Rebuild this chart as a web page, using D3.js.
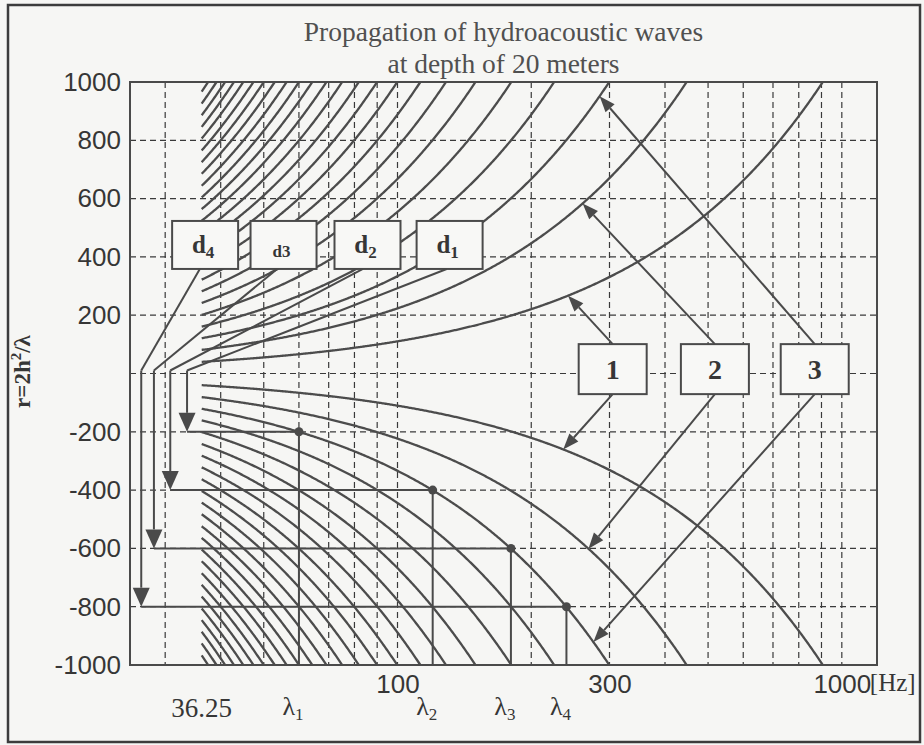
<!DOCTYPE html>
<html>
<head>
<meta charset="utf-8">
<script src="https://cdn.jsdelivr.net/npm/d3@7"></script>
<style>
body { margin: 0; background: #f6f6f4; }
svg { display: block; }
</style>
</head>
<body>
<svg id="chart" width="924" height="745"></svg>
<script>
// values
var startFreq = 36.25;
// r of every curve at 36.25 Hz (r grows in proportion to f, r = 2h^2/lambda, lambda = c/f)
var curveStartR = [40, 81, 121, 161, 201, 242, 282, 322, 363, 403, 443, 483,
                   524, 564, 604, 644, 685, 725, 765, 806, 846, 886, 926, 967];
var xGrid = [30, 40, 50, 60, 70, 80, 90, 100, 200, 300, 400, 500, 600, 700, 800, 900, 1000];
var yGrid = [-800, -600, -400, -200, 0, 200, 400, 600, 800];
var xTickLabels = [100, 300, 1000];
var yTickLabels = [1000, 800, 600, 400, 200, -200, -400, -600, -800, -1000];

var lambdaNames = ['1', '2', '3', '4'];
var lambdaFreqs = [60, 120, 180, 240];
var lambdaR = [-200, -400, -600, -800];

// d1..d4 boxes and their leader lines
var dNames = ['1', '2', '3', '4'];
var dBoxFreqs = [131, 85.6, 55.4, 36.9];
var dBoxR = 441;
var dLeaderTopFreqs = [129, 83.6, 53.6, 35.9];
var dLeaderFreqs = [33.6, 30.8, 28.3, 26.5];

// boxes 1..3 pointing at curves 1..3
var modeNames = ['1', '2', '3'];
var modeBoxFreqs = [305, 518, 869];
var modeBoxR = 15;
var modeUpFreqs = [242, 261, 285];
var modeDownFreqs = [236, 269, 276];

var svg = d3.select('#chart');
var W = 924, H = 745;
var pLeft = 130, pRight = 877, pTop = 82, pBottom = 665;
var ink = '#4a4a4a';
var serif = '"Liberation Serif", "Times New Roman", serif';
var sans = '"Liberation Sans", Arial, sans-serif';

var x = d3.scaleLog().domain([25, 1200]).range([pLeft, pRight]);
var y = d3.scaleLinear().domain([-1000, 1000]).range([pBottom, pTop]);

svg.append('rect').attr('width', W).attr('height', H).attr('fill', '#f6f6f4');
svg.append('rect')
    .attr('x', 8).attr('y', 5).attr('width', 912).attr('height', 737)
    .attr('fill', 'none').attr('stroke', '#3c3c3c').attr('stroke-width', 2.5);

svg.append('clipPath').attr('id', 'plotClip')
  .append('rect').attr('x', pLeft).attr('y', pTop)
    .attr('width', pRight - pLeft).attr('height', pBottom - pTop);

// grid
var grid = svg.append('g').attr('stroke', '#3a3a3a').attr('stroke-width', 1.2)
    .attr('stroke-dasharray', '6,4');
grid.selectAll('.vg').data(xGrid).enter().append('line')
    .attr('x1', d => x(d)).attr('x2', d => x(d))
    .attr('y1', pTop).attr('y2', pBottom);
grid.selectAll('.hg').data(yGrid).enter().append('line')
    .attr('x1', pLeft).attr('x2', pRight)
    .attr('y1', d => y(d)).attr('y2', d => y(d));

// curves, upper (+r) and lower (-r)
var line = d3.line().x(d => x(d[0])).y(d => y(d[1]));
var curves = svg.append('g').attr('clip-path', 'url(#plotClip)');
function curvePoints(r0, sign) {
    var pts = [];
    for (var px = x(startFreq); px <= pRight + 1; px += 1) {
        var f = x.invert(px);
        var r = sign * r0 * f / startFreq;
        pts.push([f, r]);
        if (Math.abs(r) > 1000) break;
    }
    return pts;
}
[1, -1].forEach(function(sign) {
    curveStartR.forEach(function(r0) {
        curves.append('path')
            .datum(curvePoints(r0, sign))
            .attr('fill', 'none')
            .attr('stroke', '#4c4c4c')
            .attr('stroke-width', 2.3)
            .attr('d', line);
    });
});

// plot frame
svg.append('rect')
    .attr('x', pLeft).attr('y', pTop).attr('width', pRight - pLeft).attr('height', pBottom - pTop)
    .attr('fill', 'none').attr('stroke', ink).attr('stroke-width', 2);

// axes labels
var yAxis = svg.append('g').attr('transform', `translate(${pLeft},0)`)
    .call(d3.axisLeft(y).tickValues(yTickLabels).tickSize(0).tickPadding(9).tickFormat(d => String(d)));
yAxis.select('.domain').remove();
yAxis.selectAll('.tick text')
    .style('font-family', sans)
    .style('font-size', '26px')
    .attr('fill', '#363636');

var xAxis = svg.append('g').attr('transform', `translate(0,${pBottom})`)
    .call(d3.axisBottom(x).tickValues(xTickLabels).tickSize(0).tickFormat(d => String(d)));
xAxis.select('.domain').remove();
xAxis.selectAll('.tick text')
    .attr('y', 28).attr('dy', 0)
    .style('font-family', sans)
    .style('font-size', '26px')
    .attr('fill', '#363636');
svg.append('text')
    .attr('x', x(1000) + 28).attr('y', 691)
    .style('font-family', serif)
    .style('font-size', '25px')
    .attr('fill', '#363636')
    .text('[Hz]');

svg.append('text')
    .attr('x', x(startFreq)).attr('y', 717)
    .attr('text-anchor', 'middle')
    .style('font-family', serif).style('font-size', '27px')
    .attr('fill', '#363636')
    .text('36.25');

lambdaFreqs.forEach(function(f, i) {
    var t = svg.append('text')
        .attr('x', x(f) - 6).attr('y', 715)
        .attr('text-anchor', 'middle')
        .style('font-family', serif).style('font-size', '26px')
        .attr('fill', '#363636');
    t.append('tspan').text('λ');
    t.append('tspan').attr('dy', 5).style('font-size', '17px').text(lambdaNames[i]);
});

// title
var title = svg.append('text')
    .attr('text-anchor', 'middle')
    .style('font-family', serif).style('font-size', '27.5px')
    .attr('fill', '#505050');
title.append('tspan').attr('x', (pLeft + pRight) / 2).attr('y', 41).text('Propagation of hydroacoustic waves');
title.append('tspan').attr('x', (pLeft + pRight) / 2).attr('y', 73).text('at depth of 20 meters');

// y label
var yl = svg.append('text')
    .attr('transform', `translate(30, ${y(0) - 2}) rotate(-90)`)
    .attr('text-anchor', 'middle')
    .style('font-family', serif).style('font-size', '23px').style('font-weight', 'bold')
    .attr('fill', '#363636');
yl.append('tspan').text('r=2h');
yl.append('tspan').attr('dy', -9).style('font-size', '15px').text('2');
yl.append('tspan').attr('dy', 9).text('/λ');

// arrow helper: shaft from (x1,y1), filled head ending at (x2,y2)
function arrow(g, x1, y1, x2, y2, len, wid) {
    var dx = x2 - x1, dy = y2 - y1, L = Math.sqrt(dx * dx + dy * dy);
    var ux = dx / L, uy = dy / L;
    var bx = x2 - ux * len, by = y2 - uy * len;
    g.append('line').attr('x1', x1).attr('y1', y1).attr('x2', bx).attr('y2', by)
        .attr('stroke', ink).attr('stroke-width', 2);
    g.append('path')
        .attr('d', `M${x2},${y2}L${bx - uy * wid / 2},${by + ux * wid / 2}L${bx + uy * wid / 2},${by - ux * wid / 2}Z`)
        .attr('fill', ink);
}

var notes = svg.append('g');

// lambda construction lines
lambdaFreqs.forEach(function(f, i) {
    var xv = x(dLeaderFreqs[i]);
    var yr = y(lambdaR[i]);
    notes.append('line').attr('x1', xv).attr('y1', yr).attr('x2', x(f)).attr('y2', yr)
        .attr('stroke', ink).attr('stroke-width', 2);
    notes.append('line').attr('x1', x(f)).attr('y1', yr).attr('x2', x(f)).attr('y2', pBottom)
        .attr('stroke', ink).attr('stroke-width', 2);
    arrow(notes, xv, y(0) - 3, xv, yr, 19, 17);
    notes.append('circle').attr('cx', x(f)).attr('cy', yr).attr('r', 4.5).attr('fill', ink);
});

// d boxes with leaders
var boxW = 66, boxH = 48;
dNames.forEach(function(n, i) {
    var cx = x(dBoxFreqs[i]), cy = y(dBoxR);
    notes.append('line')
        .attr('x1', x(dLeaderTopFreqs[i])).attr('y1', cy + boxH / 2)
        .attr('x2', x(dLeaderFreqs[i])).attr('y2', y(0) - 3)
        .attr('stroke', ink).attr('stroke-width', 2);
    notes.append('rect')
        .attr('x', cx - boxW / 2).attr('y', cy - boxH / 2)
        .attr('width', boxW).attr('height', boxH)
        .attr('fill', '#f8f8f6').attr('stroke', ink).attr('stroke-width', 2);
    var t = notes.append('text')
        .attr('x', cx - 2).attr('y', cy + 8)
        .attr('text-anchor', 'middle')
        .style('font-family', serif).style('font-weight', 'bold')
        .attr('fill', '#363636');
    if (n === '3') {
        t.attr('y', cy + 12).style('font-size', '17px').text('d3');
    } else {
        t.style('font-size', '25px');
        t.append('tspan').text('d');
        t.append('tspan').attr('dy', 5).style('font-size', '17px').text(n);
    }
});

// boxes 1..3 with arrows to the curves
var mW = 68, mH = 50;
modeNames.forEach(function(n, i) {
    var cx = x(modeBoxFreqs[i]), cy = y(modeBoxR);
    var r0 = curveStartR[i];
    var fu = modeUpFreqs[i], fd = modeDownFreqs[i];
    arrow(notes, cx, cy - mH / 2, x(fu), y(r0 * fu / startFreq), 16, 12);
    arrow(notes, cx, cy + mH / 2, x(fd), y(-r0 * fd / startFreq), 16, 12);
    notes.append('rect')
        .attr('x', cx - mW / 2).attr('y', cy - mH / 2)
        .attr('width', mW).attr('height', mH)
        .attr('fill', '#f8f8f6').attr('stroke', ink).attr('stroke-width', 2);
    notes.append('text')
        .attr('x', cx).attr('y', cy + 10)
        .attr('text-anchor', 'middle')
        .style('font-family', serif).style('font-size', '28px').style('font-weight', 'bold')
        .attr('fill', '#363636')
        .text(n);
});
</script>
</body>
</html>
